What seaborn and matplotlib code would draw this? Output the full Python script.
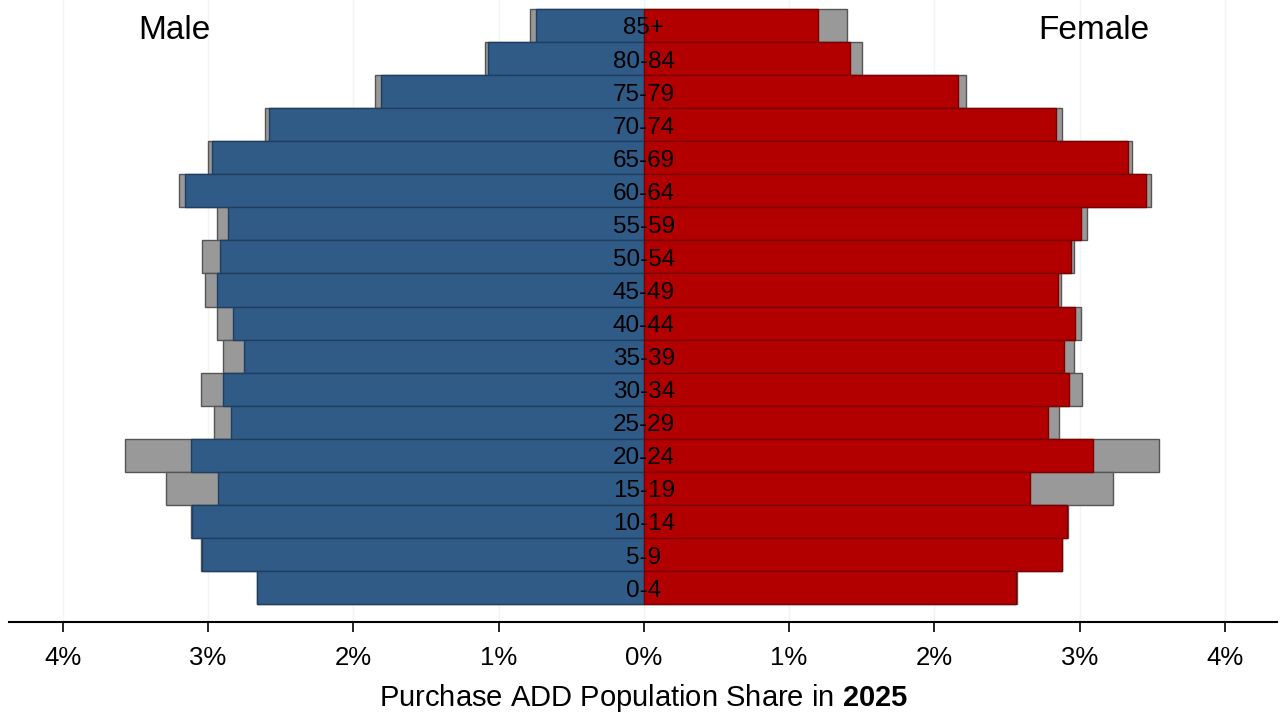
import matplotlib
matplotlib.use("Agg")
import matplotlib.pyplot as plt
import seaborn as sns
import pandas as pd

# age groups, top of the pyramid first
ages = ["85+", "80-84", "75-79", "70-74", "65-69", "60-64", "55-59", "50-54", "45-49",
        "40-44", "35-39", "30-34", "25-29", "20-24", "15-19", "10-14", "5-9", "0-4"]

# purchase ADD population share (%), front bars
male = [0.74, 1.07, 1.81, 2.58, 2.97, 3.16, 2.86, 2.92, 2.94,
        2.83, 2.75, 2.90, 2.84, 3.12, 2.93, 3.11, 3.04, 2.66]
female = [1.20, 1.42, 2.16, 2.84, 3.33, 3.46, 3.01, 2.94, 2.85,
          2.97, 2.89, 2.93, 2.78, 3.09, 2.66, 2.91, 2.88, 2.56]

# grey reference bars behind
male_ref = [0.78, 1.09, 1.85, 2.61, 3.00, 3.20, 2.94, 3.04, 3.02,
            2.94, 2.90, 3.05, 2.96, 3.57, 3.29, 3.12, 3.05, 2.66]
female_ref = [1.40, 1.50, 2.22, 2.88, 3.36, 3.49, 3.05, 2.96, 2.87,
              3.01, 2.96, 3.02, 2.86, 3.55, 3.23, 2.92, 2.88, 2.57]

xticks = [-4, -3, -2, -1, 0, 1, 2, 3, 4]

df = pd.DataFrame({"age": ages, "male": male, "female": female,
                   "male_ref": male_ref, "female_ref": female_ref})
df["male_neg"] = -df["male"]
df["male_ref_neg"] = -df["male_ref"]

sns.set_style("white")
plt.rcParams["font.family"] = ["Liberation Sans", "DejaVu Sans"]
plt.rcParams["text.color"] = "black"
plt.rcParams["xtick.color"] = "black"
plt.rcParams["axes.labelcolor"] = "black"
plt.rcParams["mathtext.fontset"] = "custom"
plt.rcParams["mathtext.rm"] = "Liberation Sans"
plt.rcParams["mathtext.bf"] = "Liberation Sans:bold"

fig = plt.figure(figsize=(12.81, 7.17), dpi=100)
ax = fig.add_axes([0.007, 0.1325, 0.99, 0.8675])

blue = "#2f5b86"
red = "#b20000"
grey = "#999999"

# grey bars first, coloured bars on top
sns.barplot(data=df, x="male_ref_neg", y="age", order=ages, orient="h", width=1.0,
            color=grey, edgecolor="#555555", linewidth=1, saturation=1, errorbar=None, ax=ax)
sns.barplot(data=df, x="female_ref", y="age", order=ages, orient="h", width=1.0,
            color=grey, edgecolor="#555555", linewidth=1, saturation=1, errorbar=None, ax=ax)
sns.barplot(data=df, x="male_neg", y="age", order=ages, orient="h", width=1.0,
            color=blue, edgecolor="#1f3f60", linewidth=1, saturation=1, errorbar=None, ax=ax)
sns.barplot(data=df, x="female", y="age", order=ages, orient="h", width=1.0,
            color=red, edgecolor="#7a0000", linewidth=1, saturation=1, errorbar=None, ax=ax)

# age labels in the middle
for i, a in enumerate(ages):
    ax.text(0, i + 0.09, a, ha="center", va="center", fontsize=17.5, color="black")

ax.text(-3.23, 0.14, "Male", ha="center", va="center", fontsize=24)
ax.text(3.10, 0.14, "Female", ha="center", va="center", fontsize=24)

ax.set_xlim(-4.37, 4.36)
ax.set_ylim(18.04, -0.77)
ax.set_xticks(xticks)
ax.set_xticklabels([f"{abs(t)}%" for t in xticks], fontsize=18.5)
ax.set_yticks([])
ax.set_ylabel("")
ax.set_xlabel(r"Purchase ADD Population Share in $\mathbf{2025}$", fontsize=21, labelpad=9)
ax.tick_params(axis="x", direction="out", length=7, width=1.2, pad=10, bottom=True, color="black")
ax.xaxis.grid(True, color="#f4f4f4", linewidth=1)
ax.set_axisbelow(True)
for s in ["top", "left", "right"]:
    ax.spines[s].set_visible(False)
ax.spines["bottom"].set_linewidth(1.5)
ax.spines["bottom"].set_color("black")

plt.savefig("out.png", dpi=100)
